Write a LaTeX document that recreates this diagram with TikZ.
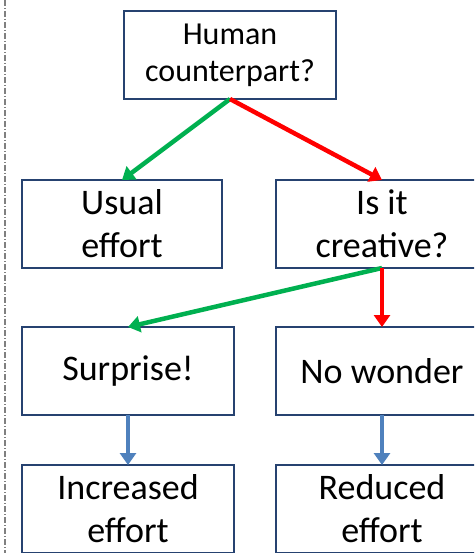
\documentclass[tikz,border=0pt]{standalone}
\usepackage{fontspec}
\setmainfont{Carlito}
\usepackage{tikz}
\usetikzlibrary {arrows,arrows.meta,positioning}
\definecolor{boxblue}{RGB}{38,66,112}
\definecolor{yesgreen}{RGB}{0,176,80}
\definecolor{nored}{RGB}{255,0,0}
\definecolor{flowblue}{RGB}{79,129,189}
\tikzset{question/.style={
    % The shape:
    rectangle,
    % The size:
    minimum height=88pt,
    minimum width=212pt,
    inner sep=0pt,
    outer sep=0pt,
    % The border:
    line width=2pt,
    draw=boxblue,
    % Font
    align=center,
    font=\fontsize{32}{37}\selectfont
    },
    outcome/.style={
    question,
    font=\fontsize{36}{43}\selectfont
    },
    yesarrow/.style={
    draw=yesgreen,
    line width=4.5pt,
    -{Triangle[length=12pt,width=16pt]},
    },
    noarrow/.style={
    yesarrow,
    draw=nored,
    },
    thenarrow/.style={
    yesarrow,
    draw=flowblue,
    },
}

\begin{document}
\begin{tikzpicture}[x=1pt,y=-1pt,node distance = 0mm and 5mm]
    \clip (0,0) rectangle (474,553);
    \useasboundingbox (0,0) rectangle (474,553);
    \draw[black!50,line width=1.2pt,dash pattern=on 6pt off 2pt on 1pt off 2pt] (5,0) -- (5,553);

    \node (human)     [question]                    at (230,55)  {Human\\counterpart?};
    \node (usual)     [outcome,minimum width=200pt] at (122,224) {Usual\\effort};
    \node (creative)  [outcome]                     at (382,224) {Is it\\creative?};
    \node (surprise)  [outcome]                     at (128,371) {Surprise!};
    \node (nowonder)  [outcome]                     at (382,371) {No wonder};
    \node (increased) [outcome]                     at (128,509) {Increased\\effort};
    \node (reduced)   [outcome]                     at (382,509) {Reduced\\effort};

    \draw[yesarrow]  (human.south)    -- (usual.north);
    \draw[noarrow]   (human.south)    -- (creative.north);
    \draw[yesarrow]  (creative.south) -- (surprise.north);
    \draw[noarrow]   (creative.south) -- (nowonder.north);
    \draw[thenarrow] (surprise.south) -- (increased.north);
    \draw[thenarrow] (nowonder.south) -- (reduced.north);
  \end{tikzpicture}
\end{document}
